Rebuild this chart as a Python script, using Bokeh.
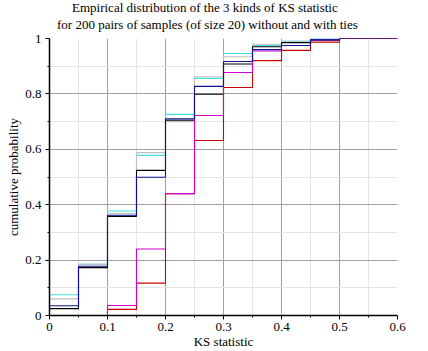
from bokeh.plotting import figure
from bokeh.models import FixedTicker, Title
from bokeh.embed import file_html
from bokeh.resources import INLINE

# ---- data ----
edges = [0, 0.05, 0.1, 0.15, 0.2, 0.25, 0.3, 0.35, 0.4, 0.45, 0.5, 0.6]
cyan_vals    = [0.075, 0.185, 0.377, 0.578, 0.726, 0.856, 0.946, 0.975, 0.99, 1.0, 1.0]
gray_vals    = [0.060, 0.185, 0.368, 0.588, 0.700, 0.862, 0.934, 0.979, 0.99, 0.995, 1.0]
black_vals   = [0.025, 0.173, 0.358, 0.524, 0.705, 0.799, 0.908, 0.970, 0.985, 0.995, 1.0]
navy_vals    = [0.035, 0.178, 0.362, 0.499, 0.710, 0.827, 0.917, 0.960, 0.975, 0.995, 1.0]
red_vals     = [0.0, 0.0, 0.022, 0.117, 0.440, 0.632, 0.823, 0.920, 0.957, 0.987, 1.0]
magenta_vals = [0.0, 0.0, 0.036, 0.240, 0.440, 0.722, 0.877, 0.955, 0.975, 0.995, 1.0]

x_ticks = [0, 0.1, 0.2, 0.3, 0.4, 0.5, 0.6]
x_tick_labels = ["0", "0.1", "0.2", "0.3", "0.4", "0.5", "0.6"]
y_ticks = [0, 0.2, 0.4, 0.6, 0.8, 1.0]
y_tick_labels = ["0", "0.2", "0.4", "0.6", "0.8", "1"]

title1 = "Empirical distribution of the 3 kinds of KS statistic"
title2 = "for 200 pairs of samples (of size 20) without and with ties"

FONT = "Liberation Serif"

p = figure(width=428, height=351, x_range=(0, 0.6), y_range=(0, 1), title=None,
           output_backend="svg", toolbar_location=None,
           min_border_left=49, min_border_right=31, min_border_top=38, min_border_bottom=36)
p.outline_line_color = None
p.background_fill_color = "white"

for ax in (p.xaxis[0], p.yaxis[0]):
    ax.axis_line_color = "black"
    ax.axis_line_width = 1.5
    ax.major_tick_line_color = "black"
    ax.minor_tick_line_color = "black"
    ax.major_tick_in = 0
    ax.major_tick_out = 4
    ax.minor_tick_in = 0
    ax.minor_tick_out = 2
    ax.major_label_text_font = FONT
    ax.major_label_text_font_size = "13px"
    ax.major_label_text_color = "black"
    ax.axis_label_text_font = FONT
    ax.axis_label_text_font_size = "13px"
    ax.axis_label_text_font_style = "normal"
    ax.axis_label_text_color = "black"

p.xaxis.ticker = FixedTicker(ticks=x_ticks, minor_ticks=[0.05, 0.15, 0.25, 0.35, 0.45, 0.55])
p.yaxis.ticker = FixedTicker(ticks=y_ticks, minor_ticks=[0.1, 0.3, 0.5, 0.7, 0.9])
p.xaxis.major_label_overrides = dict(zip(x_ticks, x_tick_labels))
p.yaxis.major_label_overrides = dict(zip(y_ticks, y_tick_labels))
p.xaxis.axis_label = "KS statistic"
p.yaxis.axis_label = "cumulative probability"
p.xaxis.major_label_standoff = 3
p.xaxis.axis_label_standoff = 0
p.yaxis.major_label_standoff = 4
p.yaxis.axis_label_standoff = 1

for g in (p.xgrid[0], p.ygrid[0]):
    g.grid_line_color = "#a0a0a0"
    g.grid_line_width = 1
    g.minor_grid_line_color = "#e4e4e4"
    g.minor_grid_line_width = 1

series = [
    (cyan_vals, "#40e0e0"),
    (gray_vals, "#c0c0c0"),
    (black_vals, "black"),
    (red_vals, "#d00000"),
    (magenta_vals, "#d000d0"),
    (navy_vals, "#101090"),
]
for vals, col in series:
    p.step(edges, vals + [vals[-1]], mode="after", line_color=col, line_width=1.1)

# two-line title: the first added sits closest to the frame
p.add_layout(Title(text=title2, align="left", offset=7.5, standoff=10.2, vertical_align="top",
                   text_font=FONT, text_font_size="13px", text_font_style="normal",
                   text_color="black"), "above")
p.add_layout(Title(text=title1, align="left", offset=22.5, standoff=-7, vertical_align="bottom",
                   text_font=FONT, text_font_size="13px", text_font_style="normal",
                   text_color="black"), "above")

open("out.html", "w").write(file_html(p, INLINE))
